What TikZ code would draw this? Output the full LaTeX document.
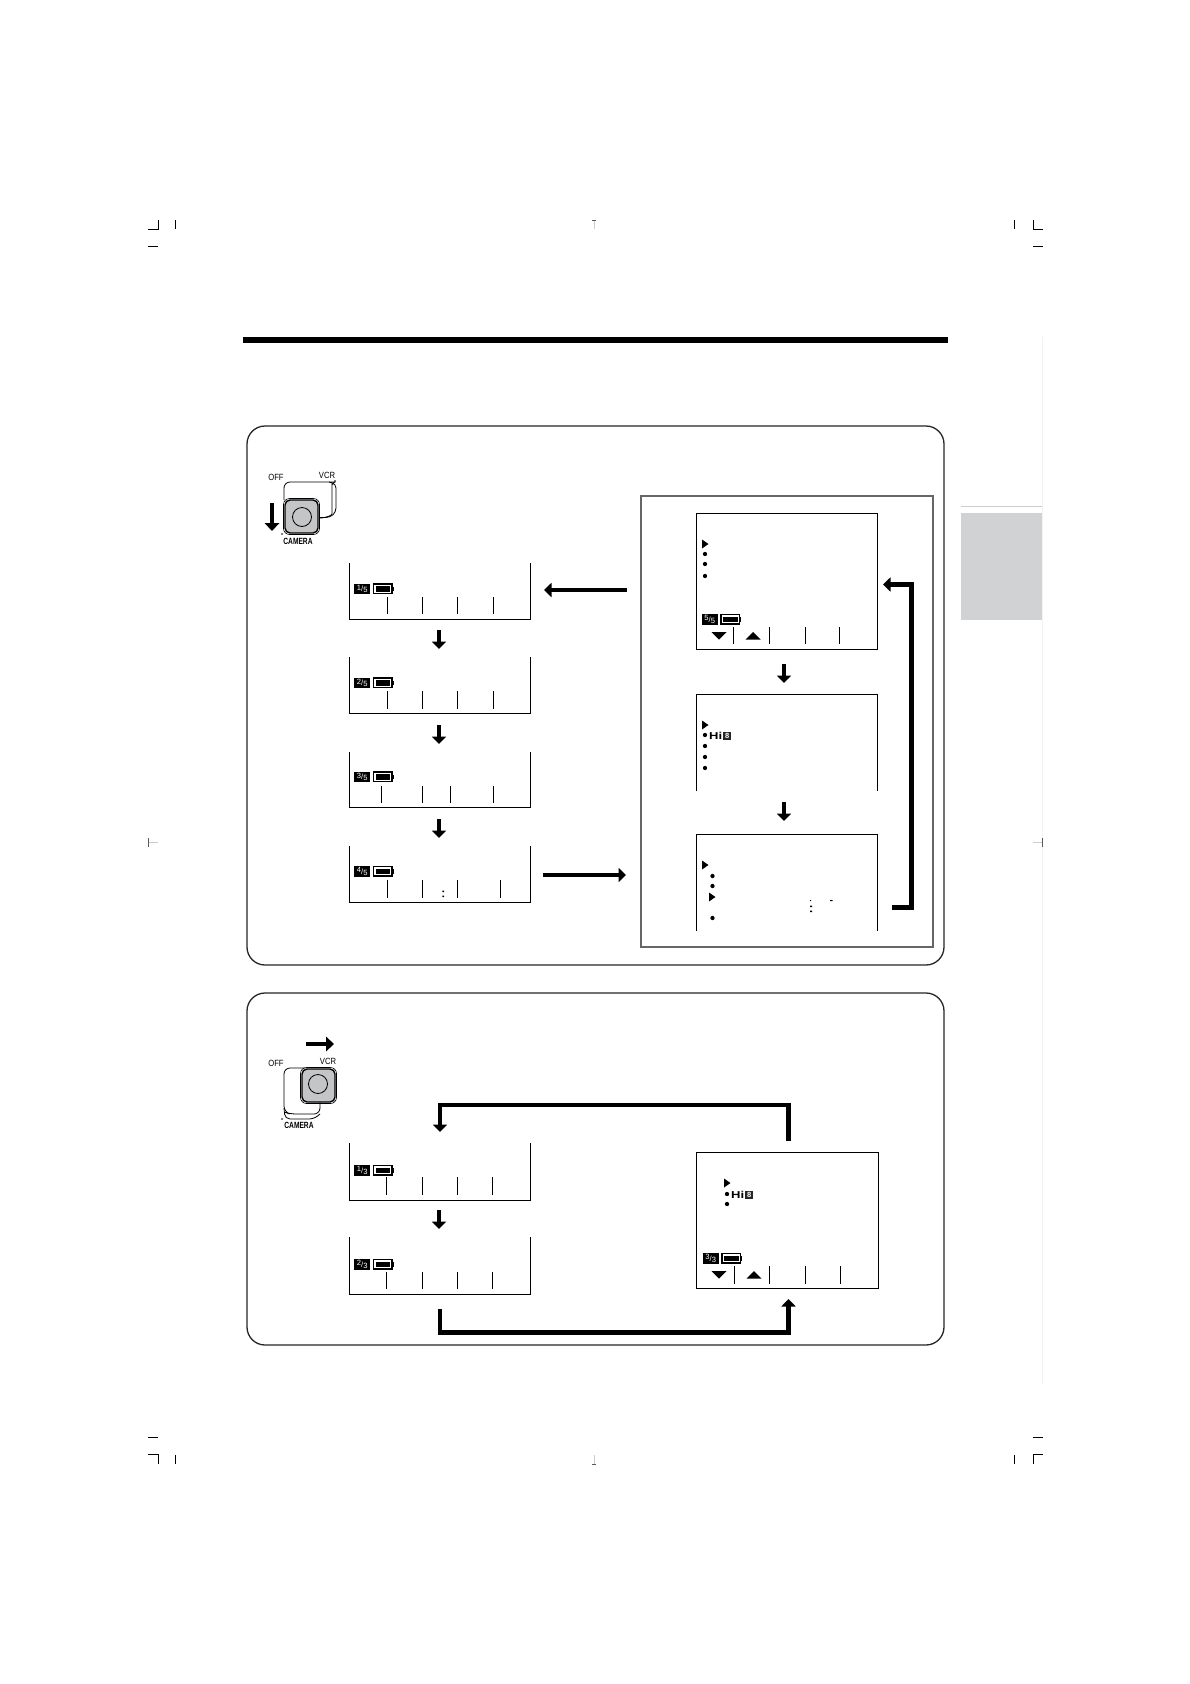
\documentclass[tikz,border=0pt]{standalone}
\usepackage{fontspec}
\setmainfont{Liberation Sans}
\usetikzlibrary{arrows.meta}
\definecolor{framegray}{HTML}{666666}
\definecolor{tabgray}{HTML}{D1D2D4}
\definecolor{knobgray}{HTML}{C4C5C7}
\tikzset{
  panel/.style={draw=black!85,line width=1.3pt,rounded corners=18pt},
  scr/.style={draw=black,line width=1pt},
  tck/.style={draw=black,line width=.9pt},
  crop/.style={draw=black,line width=.8pt},
  softcrop/.style={draw=black!20,line width=.9pt},
  midcrop/.style={draw=black!65,line width=1pt},
  bigarrow/.style={draw=black,line width=4pt,-{Triangle[length=7.5pt,width=14pt]}},
  thickarrow/.style={draw=black,line width=4.4pt,-{Triangle[length=8pt,width=14.5pt]}},
  dlabel/.style={inner sep=0pt,font=\fontsize{9}{9}\selectfont},
  spot/.style={fill=black,circle,inner sep=0pt,minimum size=4.3pt},
  badgebox/.style={fill=black,inner sep=0pt,minimum width=16pt,minimum height=10.5pt,text=white,font=\fontsize{7.6}{7.6}\selectfont},
  hibox/.style={inner sep=0pt,font=\fontsize{10}{10}\selectfont\bfseries},
  eightbox/.style={fill=black!85,text=white,inner sep=0pt,minimum width=8pt,minimum height=8pt,font=\fontsize{7.5}{7.5}\selectfont\bfseries},
  holder/.style={inner sep=0pt,outer sep=0pt}
}
% name, left x, top y, numerator, denominator
\newcommand{\statusline}[5]{%
  \node[badgebox,anchor=north west] (#1) at (#2,#3) {\raisebox{1.2pt}{#4}\kern.1pt/\kern.1pt\raisebox{-1.2pt}{#5}};
  \draw[draw=black,line width=1.1pt] (#2+19.5,#3+.5) rectangle (#2+38,#3+10);
  \fill[black] (#2+21.6,#3+2.5) rectangle (#2+36,#3+8.2);
  \fill[black] (#2+38,#3+3) rectangle (#2+39.7,#3+7.5);
}
\newcommand{\cursormark}[2]{\fill[black] (#1,#2-4.5) -- (#1+6.5,#2) -- (#1,#2+4.5) -- cycle;}
\newcommand{\softdown}[2]{\fill[black] (#1-7.5,#2) -- (#1+7.5,#2) -- (#1,#2+7.5) -- cycle;}
\newcommand{\softup}[2]{\fill[black] (#1-7.5,#2+7.5) -- (#1+7.5,#2+7.5) -- (#1,#2) -- cycle;}
\begin{document}
\begin{tikzpicture}[x=1pt,y=-1pt]
\useasboundingbox (0,0) rectangle (1190,1684);
\fill[white] (0,0) rectangle (1190,1684);

% faint page edge and side tab
\draw[black!5,line width=.8pt] (1042,337) -- (1042,1385);
\draw[black!20,line width=.8pt] (961,506.5) -- (1042,506.5);
\fill[tabgray] (961,513) rectangle (1042,620);

% top rule
\fill[black] (243,337) rectangle (948,343);

% crop marks
\draw[crop] (148,229) -- (158,229) -- (158,220);
\draw[crop] (175,220) -- (175,229);
\draw[crop] (148,246) -- (158,246);
\draw[crop] (1043,229) -- (1033,229) -- (1033,220);
\draw[crop] (1014,220) -- (1014,229);
\draw[crop] (1033,246) -- (1043,246);
\draw[softcrop] (594,220) -- (594,229);
\draw[midcrop] (592,220) -- (596,220);
\draw[crop] (148,1454) -- (158,1454) -- (158,1464);
\draw[crop] (175,1455) -- (175,1464);
\draw[crop] (148,1437) -- (158,1437);
\draw[crop] (1043,1454) -- (1033,1454) -- (1033,1464);
\draw[crop] (1014,1455) -- (1014,1464);
\draw[crop] (1033,1437) -- (1043,1437);
\draw[softcrop] (594,1455) -- (594,1464);
\draw[midcrop] (592,1464) -- (596,1464);
\draw[softcrop] (149,842) -- (158,842);
\draw[midcrop] (148,837.5) -- (148,846.5);
\draw[softcrop] (1033,842) -- (1042,842);
\draw[midcrop] (1042,837.5) -- (1042,846.5);

% panels
\draw[panel] (247,426) rectangle (944,965);
\draw[panel] (247,993) rectangle (944,1345);
\draw[draw=framegray,line width=2pt] (641,496) rectangle (933,947);

% ---- dial 1
\draw[black,line width=.8pt,rounded corners=6pt] (284,500) -- (284,482) -- (329,482) .. controls (333,482) and (332,486) .. (332,490) -- (332,508) .. controls (332,515) and (327,518) .. (319,518);
\draw[black,line width=.8pt,rounded corners=4pt] (329,482) -- (336,484) -- (336,512) -- (330,517.5) -- (319,517.5);
\draw[draw=black,fill=knobgray,line width=1.4pt,rounded corners=5pt] (285,500) rectangle (318,533);
\draw[draw=black,line width=.6pt,rounded corners=6pt] (283.5,498.5) rectangle (319.5,534.5);
\draw[black,line width=.8pt] (302,517) circle (9.5pt);
\node[dlabel] (off1) at (276,477) {\scalebox{.85}[1]{OFF}};
\node[dlabel] (vcr1) at (327,475) {\scalebox{.85}[1]{VCR}};
\node[dlabel] (cam1) at (298,541) {\scalebox{.74}[1]{\bfseries CAMERA}};
\fill[black] (282,534) circle (.9pt) (335,481) circle (.9pt);
\coordinate (dial1a) at (272,503);
\coordinate (dial1b) at (272,531);
\draw[thickarrow] (dial1a) -- (dial1b);

% ---- left screens, panel 1
\node[holder,minimum width=180.5pt,minimum height=56pt] (a1) at (440,591) {};
\node[holder,minimum width=180.5pt,minimum height=56pt] (a2) at (440,685) {};
\node[holder,minimum width=180.5pt,minimum height=56pt] (a3) at (440,779.5) {};
\node[holder,minimum width=180.5pt,minimum height=56pt] (a4) at (440,874) {};
\foreach \n in {a1,a2,a3,a4}{
  \draw[scr] (\n.north west) -- (\n.south west) -- (\n.south east) -- (\n.north east);
}
\statusline{ba1}{354}{583.5}{1}{5}
\statusline{ba2}{354}{677.5}{2}{5}
\statusline{ba3}{354}{771.5}{3}{5}
\statusline{ba4}{354}{866}{4}{5}
\foreach \x in {387,422,457,493}{\draw[tck] (\x,597) -- (\x,614);}
\foreach \x in {387,422,457,493}{\draw[tck] (\x,691) -- (\x,709);}
\foreach \x in {381,422,450,493}{\draw[tck] (\x,786) -- (\x,803);}
\foreach \x in {387,422,457,500}{\draw[tck] (\x,880) -- (\x,898);}
\fill[black] (442.3,890.5) rectangle (444,892.2) (442.3,895.5) rectangle (444,897.2);
\coordinate (a1d) at (439,630);
\coordinate (a2u) at (439,649);
\coordinate (a2d) at (439,725);
\coordinate (a3u) at (439,744);
\coordinate (a3d) at (439,819);
\coordinate (a4u) at (439,838);
\draw[bigarrow] (a1d) -- (a2u);
\draw[bigarrow] (a2d) -- (a3u);
\draw[bigarrow] (a3d) -- (a4u);

% ---- right screens, panel 1
\node[holder,minimum width=181pt,minimum height=136pt] (r1) at (787,581) {};
\node[holder,minimum width=181pt,minimum height=97pt] (r2) at (787,742.5) {};
\node[holder,minimum width=181pt,minimum height=97pt] (r3) at (787,882.5) {};
\draw[scr] (r1.north west) rectangle (r1.south east);
\draw[scr] (r2.south west) -- (r2.north west) -- (r2.north east) -- (r2.south east);
\draw[scr] (r3.south west) -- (r3.north west) -- (r3.north east) -- (r3.south east);
\statusline{br1}{701.5}{614}{5}{5}
\foreach \x in {733,769,805,839}{\draw[tck] (\x,627) -- (\x,644);}
\softdown{719}{632}
\softup{753}{632}
\cursormark{702}{544}
\node[spot] (d1) at (705,554) {};
\node[spot] (d2) at (705,564) {};
\node[spot] (d3) at (705,576) {};
\cursormark{702}{725}
\node[spot] (d4) at (705,735) {};
\node[spot] (d5) at (705,746) {};
\node[spot] (d6) at (705,757) {};
\node[spot] (d7) at (705,768) {};
\node[hibox,anchor=west] (hi1) at (709,735.5) {\scalebox{1.3}[1]{Hi}};
\node[eightbox,anchor=west] (ei1) at (723,735.5) {8};
\cursormark{702}{865}
\node[spot] (d8) at (712.5,876) {};
\node[spot] (d9) at (712.5,886) {};
\cursormark{709}{897}
\node[spot] (d10) at (712.5,918) {};
\fill[black] (810,900) rectangle (811,901) (830,900) rectangle (832.5,901);
\fill[black] (810,905.5) rectangle (812,907) (810,910.5) rectangle (812,912);
\coordinate (r1d) at (784,664);
\coordinate (r2u) at (784,683);
\coordinate (r2d) at (784,802);
\coordinate (r3u) at (784,821);
\draw[bigarrow] (r1d) -- (r2u);
\draw[bigarrow] (r2d) -- (r3u);

% ---- arrows between columns, panel 1
\coordinate (ac1) at (627,590);
\coordinate (ac2) at (544,590);
\coordinate (ac3) at (543,875);
\coordinate (ac4) at (626,875);
\draw[bigarrow] (ac1) -- (ac2);
\draw[bigarrow] (ac3) -- (ac4);
\coordinate (lp1) at (892,907);
\coordinate (lp2) at (911,907);
\coordinate (lp3) at (911,584.5);
\coordinate (lp4) at (883,584.5);
\draw[bigarrow,line width=5pt] (lp1) -- (lp2) -- (lp3) -- (lp4);

% ---- dial 2
\draw[black,line width=.8pt,rounded corners=6pt] (305,1068) -- (284,1068) -- (284,1112) -- (290,1114) -- (320,1114) -- (320,1102);
\draw[black,line width=.8pt,rounded corners=5pt] (284,1108) -- (285,1119) -- (314,1119) -- (320,1114);
\draw[draw=black,fill=knobgray,line width=1.4pt,rounded corners=5pt] (302,1069) rectangle (335,1102);
\draw[draw=black,line width=.6pt,rounded corners=6pt] (300.5,1067.5) rectangle (336.5,1103.5);
\draw[black,line width=.8pt] (318,1084) circle (9.5pt);
\node[dlabel] (off2) at (276,1063) {\scalebox{.85}[1]{OFF}};
\node[dlabel] (vcr2) at (328,1061) {\scalebox{.85}[1]{VCR}};
\node[dlabel] (cam2) at (299,1125) {\scalebox{.74}[1]{\bfseries CAMERA}};
\fill[black] (282,1119) circle (.9pt);
\coordinate (dial2a) at (306,1044);
\coordinate (dial2b) at (334,1044);
\draw[thickarrow] (dial2a) -- (dial2b);

% ---- screens, panel 2
\node[holder,minimum width=181pt,minimum height=57pt] (b1) at (439.5,1171.5) {};
\node[holder,minimum width=181pt,minimum height=57pt] (b2) at (439.5,1265.5) {};
\foreach \n in {b1,b2}{
  \draw[scr] (\n.north west) -- (\n.south west) -- (\n.south east) -- (\n.north east);
}
\statusline{bb1}{354}{1165}{1}{3}
\statusline{bb2}{354}{1259}{2}{3}
\foreach \x in {386,422,457,492}{\draw[tck] (\x,1177) -- (\x,1195);}
\foreach \x in {386,422,457,492}{\draw[tck] (\x,1272) -- (\x,1289);}
\coordinate (b1d) at (439,1210);
\coordinate (b2u) at (439,1229);
\draw[bigarrow] (b1d) -- (b2u);

\node[holder,minimum width=182.5pt,minimum height=136pt] (b3) at (787.5,1220) {};
\draw[scr] (b3.north west) rectangle (b3.south east);
\statusline{bb3}{702.5}{1253}{3}{3}
\foreach \x in {734,769,805,840}{\draw[tck] (\x,1266) -- (\x,1284);}
\softdown{719}{1271}
\softup{754}{1271}
\cursormark{724}{1183}
\node[spot] (e1) at (727,1194) {};
\node[spot] (e2) at (727,1204) {};
\node[hibox,anchor=west] (hi2) at (731,1194.5) {\scalebox{1.3}[1]{Hi}};
\node[eightbox,anchor=west] (ei2) at (745,1194.5) {8};

% ---- loop arrows, panel 2
\coordinate (t1) at (788.5,1141);
\coordinate (t2) at (788.5,1105);
\coordinate (t3) at (440,1105);
\coordinate (t4) at (440,1132);
\draw[bigarrow,line width=4.5pt] (t1) -- (t2) -- (t3) -- (t4);
\coordinate (u1) at (440,1309);
\coordinate (u2) at (440,1332.5);
\coordinate (u3) at (788.5,1332.5);
\coordinate (u4) at (788.5,1299);
\draw[bigarrow,line width=4.5pt] (u1) -- (u2) -- (u3) -- (u4);
\end{tikzpicture}
\end{document}
